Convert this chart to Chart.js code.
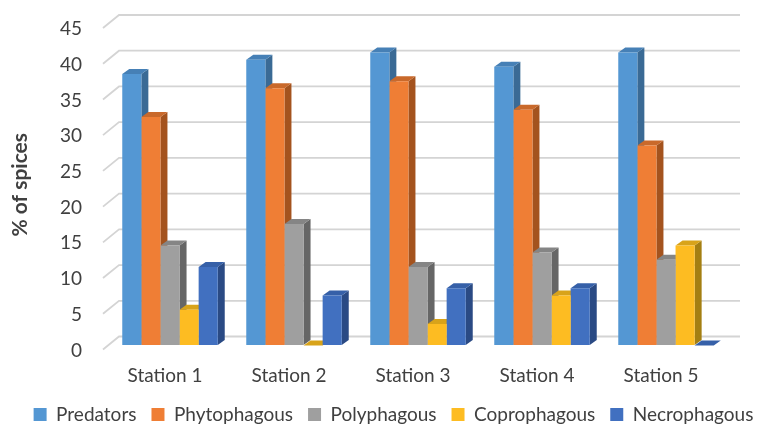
<!DOCTYPE html>
<html>
<head>
<meta charset="utf-8">
<script src="https://cdn.jsdelivr.net/npm/chart.js@4/dist/chart.umd.min.js"></script>
<style>
  html, body { margin: 0; padding: 0; background: #ffffff; }
  #wrap { width: 761px; height: 426px; }
</style>
</head>
<body>
<div id="wrap"><canvas id="chart"></canvas></div>
<script>
// Share of species (%) by feeding group at each station
const stations = ['Station 1', 'Station 2', 'Station 3', 'Station 4', 'Station 5'];
const seriesNames = ['Predators', 'Phytophagous', 'Polyphagous', 'Coprophagous', 'Necrophagous'];
const predators    = [38, 40, 41, 39, 41];
const phytophagous = [32, 36, 37, 33, 28];
const polyphagous  = [14, 17, 11, 13, 12];
const coprophagous = [5, 0, 3, 7, 14];
const necrophagous = [11, 7, 8, 8, 0];
const yMin = 0, yMax = 45, yStep = 5;
const yTitle = '% of spices';

// Face colours for each series: front, right side, top
const faces = [
  { front: '#5497d3', side: '#3a6a95', top: '#4680b6' },
  { front: '#ef7e35', side: '#a4531e', top: '#c9692b' },
  { front: '#9f9f9f', side: '#666666', top: '#858585' },
  { front: '#fdbc22', side: '#a47f12', top: '#d8a31a' },
  { front: '#4170c0', side: '#2a4a84', top: '#3660a8' }
];

const TEXT = '#404040';
const FONT = "Lato, 'Open Sans', 'DejaVu Sans', sans-serif";
Chart.defaults.font.family = FONT;

// Depth geometry, relative to the bars' front plane
const BAR_DEPTH = { dx: 7, dy: 5 };
const FLOOR_FRONT = { dx: -5, dy: 4 };
const WALL_BACK = { dx: 11, dy: -9 };
const WALL_RIGHT_EXTRA = 12;

function fillPoly(ctx, pts) {
  ctx.beginPath();
  ctx.moveTo(pts[0][0], pts[0][1]);
  for (let i = 1; i < pts.length; i++) ctx.lineTo(pts[i][0], pts[i][1]);
  ctx.closePath();
  ctx.fill();
}

// Back-wall gridlines, side-wall slants, and the side/top faces of every column
const depthPlugin = {
  id: 'depth3d',
  beforeDatasetsDraw(chart) {
    const ctx = chart.ctx;
    const ys = chart.scales.y;
    const area = chart.chartArea;
    ctx.save();
    ctx.strokeStyle = '#d4d4d4';
    ctx.lineWidth = 1.8;
    ys.ticks.forEach(t => {
      const py = ys.getPixelForValue(t.value);
      ctx.beginPath();
      ctx.moveTo(area.left + FLOOR_FRONT.dx, py + FLOOR_FRONT.dy);
      ctx.lineTo(area.left + WALL_BACK.dx, py + WALL_BACK.dy);
      ctx.lineTo(area.right + WALL_RIGHT_EXTRA, py + WALL_BACK.dy);
      ctx.stroke();
    });

    const bars = [];
    chart.data.datasets.forEach((ds, i) => {
      const meta = chart.getDatasetMeta(i);
      if (meta.hidden) return;
      meta.data.forEach(el => {
        const p = el.getProps(['x', 'y', 'base', 'width'], true);
        bars.push({ p, c: faces[i] });
      });
    });
    bars.sort((a, b) => a.p.x - b.p.x);
    bars.forEach(({ p, c }) => {
      const l = p.x - p.width / 2, r = p.x + p.width / 2;
      const t = Math.min(p.y, p.base), b = Math.max(p.y, p.base);
      const dx = BAR_DEPTH.dx, dy = BAR_DEPTH.dy;
      ctx.fillStyle = c.side;
      fillPoly(ctx, [[r, t], [r + dx, t - dy], [r + dx, b - dy], [r, b]]);
      ctx.fillStyle = c.top;
      fillPoly(ctx, [[l, t], [r, t], [r + dx, t - dy], [l + dx, t - dy]]);
    });
    ctx.restore();
  }
};

const seriesValues = [predators, phytophagous, polyphagous, coprophagous, necrophagous];

new Chart(document.getElementById('chart'), {
  type: 'bar',
  data: {
    labels: stations,
    datasets: seriesNames.map((name, i) => ({
      label: name,
      data: seriesValues[i],
      backgroundColor: faces[i].front,
      borderColor: faces[i].front,
      borderWidth: 0,
      barPercentage: 1,
      categoryPercentage: 0.77
    }))
  },
  options: {
    responsive: true,
    maintainAspectRatio: false,
    animation: false,
    layout: { padding: { left: 13, right: -13, top: 24, bottom: 0 } },
    plugins: {
      tooltip: { enabled: false },
      legend: {
        position: 'bottom',
        maxHeight: 36,
        labels: {
          boxWidth: 13,
          boxHeight: 13,
          padding: 15,
          color: TEXT,
          font: { size: 19, family: FONT }
        }
      }
    },
    scales: {
      x: {
        grid: { display: false, drawTicks: false },
        border: { display: false },
        ticks: { labelOffset: -5, padding: 19, color: TEXT, font: { size: 19, family: FONT } },
        afterFit(s) { s.height = 44.5; }
      },
      y: {
        min: yMin,
        max: yMax,
        grid: { display: true, drawOnChartArea: false, drawTicks: true, tickLength: 24, color: 'rgba(0,0,0,0)' },
        border: { display: false },
        ticks: { stepSize: yStep, padding: 2, labelOffset: 5, color: TEXT, font: { size: 19, family: FONT } },
        title: {
          display: true,
          text: yTitle,
          color: TEXT,
          font: { size: 21, weight: 'bold', family: FONT },
          padding: { top: -5, bottom: 0 }
        },
        afterFit(s) { s.width = 95; }
      },
      yRight: {
        position: 'right',
        display: true,
        grid: { display: false, drawTicks: false },
        border: { display: false },
        ticks: { display: false },
        afterFit(s) { s.width = 46; }
      }
    }
  },
  plugins: [depthPlugin]
});
</script>
</body>
</html>
